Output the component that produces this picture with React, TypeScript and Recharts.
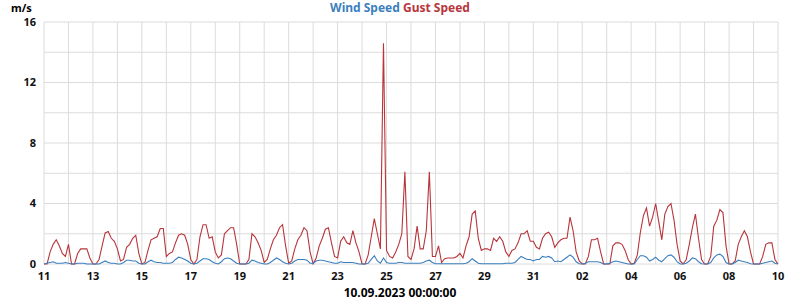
import React from 'react';
import { LineChart, Line, XAxis, YAxis, CartesianGrid } from 'recharts';

// 3-hourly samples, Aug 11 00:00 -> Sep 10 00:00
const gust = [
  0, 0, 0.8, 1.3, 1.6, 1.2, 0.7, 0.5,
  1.3, 0, 0, 0.7, 1.0, 1.0, 1.0, 0.4,
  0, 0, 0.3, 1.2, 2.05, 2.15, 1.7, 1.5,
  1.0, 0.2, 0.3, 1.1, 1.3, 1.7, 1.9, 0.7,
  0, 0.1, 0.9, 1.6, 1.7, 1.8, 2.35, 2.35,
  0.5, 0.7, 0.8, 1.4, 1.9, 2.0, 1.9, 1.3,
  0.3, 0, 0.3, 1.8, 2.6, 2.6, 1.7, 1.8,
  0.8, 0.4, 0.6, 2.0, 2.2, 2.4, 2.4, 1.3,
  0, 0, 0, 0.3, 2.0, 1.8, 1.4, 0.9,
  0.1, 0.3, 1.0, 1.6, 1.9, 2.4, 2.6, 1.2,
  0.05, 0.2, 1.0, 1.6, 1.9, 2.4, 2.2, 0.8,
  0, 0.4, 1.2, 1.7, 2.3, 2.4, 1.4, 0.5,
  0.4, 1.5, 1.8, 1.4, 1.3, 2.2, 1.4, 0.8,
  0, 0, 0.6, 1.8, 3.0, 2.0, 1.0, 14.6,
  0.9, 0.5, 0.4, 0.8, 1.3, 2.0, 6.1, 0.5,
  0.3, 1.0, 2.5, 1.0, 1.0, 2.2, 6.1, 0.5,
  0.5, 1.2, 0.1, 0.35, 0.4, 0.4, 0.4, 0.5,
  0.7, 0.4, 1.2, 1.8, 3.3, 3.5, 1.7, 0.9,
  1.0, 1.0, 0.9, 1.7, 1.5, 1.8, 1.5, 0.8,
  0.5, 0.9, 1.0, 1.4, 2.0, 2.0, 2.2, 1.5,
  1.5, 1.1, 1.0, 1.7, 2.0, 2.1, 1.8, 1.1,
  1.4, 1.6, 1.7, 1.7, 3.1, 2.2, 0.8, 0.2,
  0, 0, 0.5, 1.6, 1.6, 1.7, 0.8, 0,
  0, 0, 1.2, 1.4, 1.4, 1.3, 0.9, 0.3,
  0, 0.05, 0.6, 2.1, 3.2, 3.7, 2.5, 3.1,
  4.0, 2.8, 1.6, 3.3, 3.8, 4.0, 2.9, 1.3,
  0.2, 0, 0.3, 1.3, 2.4, 3.3, 1.7, 0.3,
  0, 0, 0.5, 2.5, 2.9, 3.6, 3.4, 1.2,
  0, 0, 0.2, 1.3, 1.8, 2.2, 1.8, 0.8,
  0, 0, 0, 0.5, 1.3, 1.4, 1.4, 0.3,
  0,
];

const wind = [
  0, 0.05, 0.1, 0.15, 0.05, 0.05, 0.05, 0.1,
  0.05, 0, 0, 0.05, 0.05, 0.05, 0, 0,
  0, 0, 0, 0.1, 0.2, 0.1, 0.05, 0.05,
  0, 0, 0.1, 0.25, 0.25, 0.2, 0.2, 0.05,
  0, 0, 0.15, 0.25, 0.15, 0.1, 0.1, 0.05,
  0.05, 0.05, 0.1, 0.3, 0.45, 0.4, 0.3, 0.2,
  0.05, 0, 0.05, 0.2, 0.35, 0.35, 0.3, 0.15,
  0.05, 0, 0.15, 0.35, 0.4, 0.35, 0.2, 0.05,
  0, 0, 0, 0.05, 0.25, 0.2, 0.1, 0.05,
  0, 0, 0.1, 0.25, 0.4, 0.3, 0.15, 0.05,
  0, 0.05, 0.2, 0.3, 0.3, 0.3, 0.25, 0.05,
  0.05, 0.2, 0.25, 0.25, 0.2, 0.15, 0.1, 0.05,
  0.05, 0.15, 0.1, 0.1, 0.1, 0.1, 0.05, 0,
  0, 0, 0.05, 0.3, 0.55, 0.2, 0.05, 0.4,
  0.1, 0.05, 0.05, 0.05, 0.1, 0.1, 0.05, 0.05,
  0.05, 0.05, 0.05, 0.05, 0.1, 0.2, 0.25, 0.1,
  0.02, 0.02, 0.02, 0.02, 0.02, 0.02, 0.02, 0.02,
  0.02, 0.02, 0.05, 0.15, 0.35, 0.2, 0.05, 0.02,
  0.02, 0.02, 0.02, 0.02, 0.02, 0.02, 0.02, 0.05,
  0.05, 0.05, 0.1, 0.3, 0.5, 0.4, 0.3, 0.3,
  0.2, 0.3, 0.3, 0.5, 0.45, 0.5, 0.4, 0.15,
  0.2, 0.15, 0.3, 0.45, 0.6, 0.45, 0.15, 0.02,
  0, 0.05, 0.15, 0.15, 0.15, 0.15, 0.1, 0,
  0, 0.05, 0.15, 0.2, 0.15, 0.1, 0.05, 0,
  0, 0, 0.3, 0.55, 0.55, 0.45, 0.2, 0.3,
  0.45, 0.25, 0.15, 0.35, 0.55, 0.6, 0.45, 0.15,
  0, 0, 0.05, 0.2, 0.4, 0.35, 0.15, 0.02,
  0, 0, 0.1, 0.4, 0.6, 0.65, 0.5, 0.1,
  0, 0, 0.1, 0.25, 0.2, 0.15, 0.1, 0.02,
  0, 0, 0, 0.05, 0.1, 0.15, 0.2, 0.05,
  0,
];

const dayLabels = ['11', '13', '15', '17', '19', '21', '23', '25', '27', '29', '31', '02', '04', '06', '08', '10'];
const dayTicks = Array.from({ length: 31 }, (_, i) => i);
const yTicks = [0, 2, 4, 6, 8, 10, 12, 14, 16];

const WIND_COLOR = '#3c7fbe';
const GUST_COLOR = '#b7353b';
const FONT = '"Noto Sans", sans-serif';

const data = gust.map((g, i) => ({ t: i / 8, gust: g, wind: wind[i] }));

const App: React.FC = () => {
  return (
    <div style={{ position: 'absolute', left: 0, top: 0, width: 800, height: 300, background: '#fff', fontFamily: FONT }}>
      <div style={{ position: 'absolute', top: 0, width: 800, textAlign: 'center', fontSize: 12, fontWeight: 700, lineHeight: '16px' }}>
        <span style={{ color: WIND_COLOR }}>Wind Speed</span> <span style={{ color: GUST_COLOR }}>Gust Speed</span>
      </div>
      <div style={{ position: 'absolute', top: 0, left: 11, fontSize: 11, fontWeight: 700, lineHeight: '16px' }}>m/s</div>
      <div style={{ position: 'absolute', top: 285, width: 800, textAlign: 'center', fontSize: 12, fontWeight: 700, lineHeight: '16px' }}>
        10.09.2023 00:00:00
      </div>
      <LineChart width={800} height={300} data={data} margin={{ top: 22, right: 22, left: 0, bottom: 0 }}>
        <CartesianGrid stroke="#dcdcdc" />
        <XAxis
          dataKey="t"
          type="number"
          domain={[0, 30]}
          ticks={dayTicks}
          interval={0}
          height={36}
          axisLine={false}
          tickLine={false}
          tick={{ fontSize: 11, fontWeight: 700, fill: '#111', fontFamily: FONT }}
          tickFormatter={(d: number) => (d % 2 === 0 ? dayLabels[d / 2] : '')}
        />
        <YAxis
          domain={[0, 16]}
          ticks={yTicks}
          interval={0}
          width={44}
          axisLine={false}
          tickLine={false}
          tick={{ fontSize: 11, fontWeight: 700, fill: '#111', fontFamily: FONT }}
          tickFormatter={(v: number) => (v % 4 === 0 ? String(v) : '')}
        />
        <Line type="linear" dataKey="gust" stroke={GUST_COLOR} strokeWidth={1.1} dot={false} isAnimationActive={false} />
        <Line type="linear" dataKey="wind" stroke={WIND_COLOR} strokeWidth={1.1} dot={false} isAnimationActive={false} />
      </LineChart>
    </div>
  );
};

export default App;
